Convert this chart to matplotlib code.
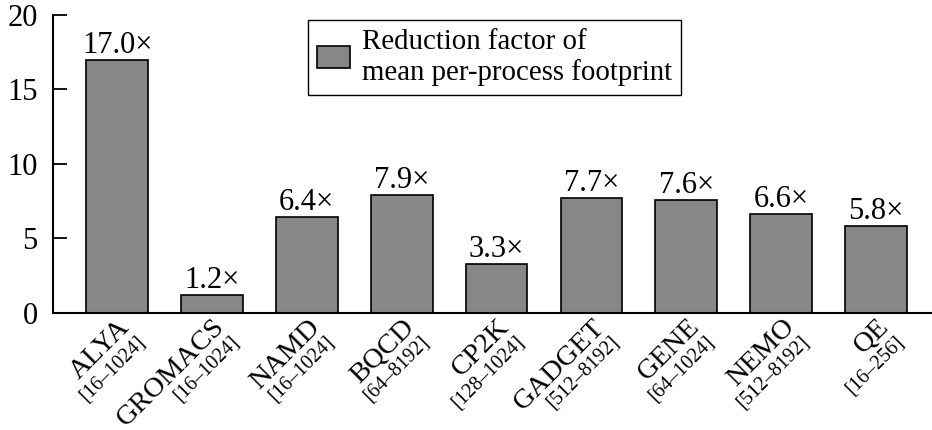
import matplotlib
matplotlib.use("Agg")
import matplotlib.pyplot as plt
from matplotlib.transforms import offset_copy

plt.rcParams.update({
    "font.family": ["Liberation Serif", "DejaVu Serif"],
    "font.size": 22,
})

# ---- data ----
apps = ["ALYA", "GROMACS", "NAMD", "BQCD", "CP2K", "GADGET", "GENE", "NEMO", "QE"]
ranges = ["[16–1024]", "[16–1024]", "[16–1024]", "[64–8192]", "[128–1024]",
          "[512–8192]", "[64–1024]", "[512–8192]", "[16–256]"]
factors = [17.0, 1.2, 6.4, 7.9, 3.3, 7.7, 7.6, 6.6, 5.8]
yticks = [0, 5, 10, 15, 20]

BAR = "#878787"

fig = plt.figure(figsize=(9.32, 4.30), dpi=100)
ax = fig.add_axes([0.057, 0.273, 0.943, 0.692])

x = list(range(len(apps)))
ax.bar(x, factors, width=0.65, color=BAR, edgecolor="black", linewidth=1.2,
       label="Reduction factor of\nmean per-process footprint", zorder=2)

for xi, v in zip(x, factors):
    ax.annotate(f"{v:.1f}×", (xi, v), xytext=(0, 0), textcoords="offset points",
                ha="center", va="bottom", fontsize=22)

ax.set_xlim(-0.675, 8.59)
ax.set_ylim(0, 20)
ax.set_yticks(yticks)
ax.set_xticks(x)
ax.set_xticklabels([])
ax.tick_params(axis="y", direction="in", length=10, width=1.3, pad=11, labelsize=22)
ax.tick_params(axis="x", length=0)
for s in ["top", "right"]:
    ax.spines[s].set_visible(False)
for s in ["left", "bottom"]:
    ax.spines[s].set_linewidth(1.5)

# two-part rotated tick labels: name above, processor range below
for xi, name, rng in zip(x, apps, ranges):
    base = offset_copy(ax.get_xaxis_transform(), fig=fig, x=13, y=-14, units="points")
    ax.text(xi, 0, name, transform=base, rotation=45, rotation_mode="anchor",
            ha="right", va="bottom", fontsize=20.5)
    ax.text(xi, 0, rng, transform=base, rotation=45, rotation_mode="anchor",
            ha="right", va="top", fontsize=14.5)

leg = ax.legend(loc="upper left", bbox_to_anchor=(0.29, 0.985), borderaxespad=0,
                fancybox=False, edgecolor="black", framealpha=1, fontsize=20.8,
                handlelength=1.15, handleheight=0.8, handletextpad=0.4, borderpad=0.32)
leg.get_frame().set_linewidth(1.0)

fig.savefig("out.png", dpi=100)
